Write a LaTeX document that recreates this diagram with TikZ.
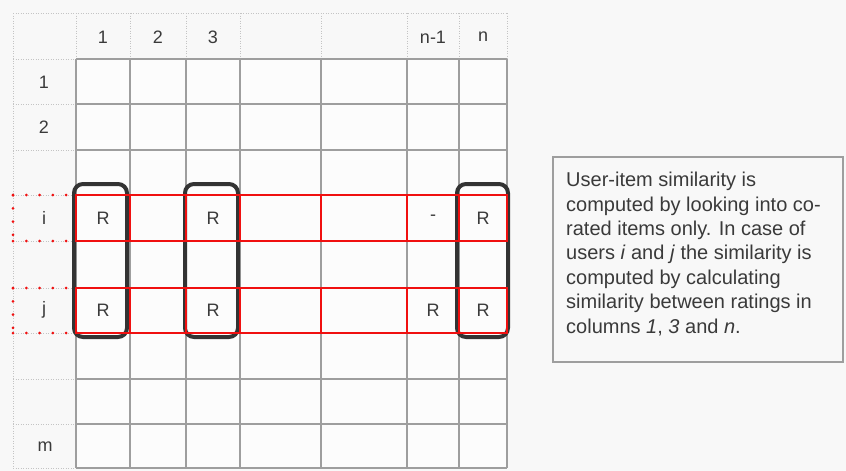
\documentclass[tikz,border=0pt]{standalone}
\usepackage{fontspec}
\setmainfont{Liberation Sans}
\definecolor{bgc}{HTML}{F8F8F8}
\definecolor{gridc}{HTML}{9E9E9E}
\definecolor{dotc}{HTML}{C4C4C4}
\definecolor{txt}{HTML}{3A3A3A}
\definecolor{boxc}{HTML}{333333}
\definecolor{redc}{HTML}{F01010}
\tikzset{
  gridline/.style={draw=gridc, line width=1.3pt},
  dotline/.style={draw=dotc, line width=0.9pt, dash pattern=on 1pt off 1.5pt},
  reddot/.style={draw=redc, line width=3pt, line cap=round, dash pattern=on 0pt off 13.3pt},
  redline/.style={draw=redc, line width=1.8pt},
  colbox/.style={draw=boxc, line width=4pt, rounded corners=9pt},
  lab/.style={text=txt, font=\fontsize{18}{20}\selectfont, inner sep=0pt},
  notebox/.style={draw=gridc, line width=1.2pt, fill=bgc}
}
\begin{document}
\begin{tikzpicture}[x=1pt,y=-1pt]
\fill[bgc] (0,0) rectangle (846,471);
\useasboundingbox (0,0) rectangle (846,471);
% data cells
\fill[white!60!bgc] (76,59) rectangle (507,468);
% dotted header / label column
\draw[dotline] (13,13) -- (507,13);
\draw[dotline] (13,13) -- (13,468);
\foreach \x in {76,130,186,240,321,407,459,507} \draw[dotline] (\x,13) -- (\x,59);
\foreach \y in {59,104,150,195,241,288,333,379,424,468} \draw[dotline] (13,\y) -- (76,\y);
% solid grid
\foreach \x in {76,130,186,240,321,407,459,507} \draw[gridline] (\x,59) -- (\x,468);
\foreach \y in {59,104,150,195,241,288,333,379,424,468} \draw[gridline] (76,\y) -- (507,\y);
% black column boxes
\draw[colbox] (74,184) rectangle (127,337);
\draw[colbox] (185,184) rectangle (238,337);
\draw[colbox] (457,184) rectangle (508,337);
% red rows
\foreach \ya/\yb in {195/241,288/333}{
  \draw[redline] (76,\ya) rectangle (507,\yb);
  \foreach \x in {130,186,240,321,407,459} \draw[redline] (\x,\ya) -- (\x,\yb);
  \draw[reddot] (13,\ya) -- (70,\ya);
  \draw[reddot] (13,\yb) -- (70,\yb);
  \draw[reddot] (13,\ya) -- (13,\yb);
}
% header labels
\node[lab] (h1) at (103,37) {1};
\node[lab] (h2) at (158,37) {2};
\node[lab] (h3) at (213,37) {3};
\node[lab] (hn1) at (433,37) {n-1};
\node[lab] (hn) at (483,37) {n};
% row labels
\node[lab] (r1) at (44,82) {1};
\node[lab] (r2) at (44,127) {2};
\node[lab] (ri) at (44,218) {i};
\node[lab] (rj) at (44,310) {j};
\node[lab] (rm) at (45,447) {m};
% ratings
\node[lab] (i1) at (103,218) {R};
\node[lab] (i3) at (213,218) {R};
\node[lab] (in1) at (433,218) {-};
\node[lab] (in) at (483,218) {R};
\node[lab] (j1) at (103,310) {R};
\node[lab] (j3) at (213,310) {R};
\node[lab] (jn1) at (433,310) {R};
\node[lab] (jn) at (483,310) {R};
% note
\draw[notebox] (553,157) rectangle (843,362);
\node[anchor=north west, text=txt, align=left, inner sep=0pt,
  font=\fontsize{20}{24.4}\selectfont] (note) at (566,172)
  {User-item similarity is\\computed by looking into co-\\rated items only. In case of\\users \textit{i} and \textit{j} the similarity is\\computed by calculating\\similarity between ratings in\\columns \textit{1}, \textit{3} and \textit{n}.};
\end{tikzpicture}
\end{document}
